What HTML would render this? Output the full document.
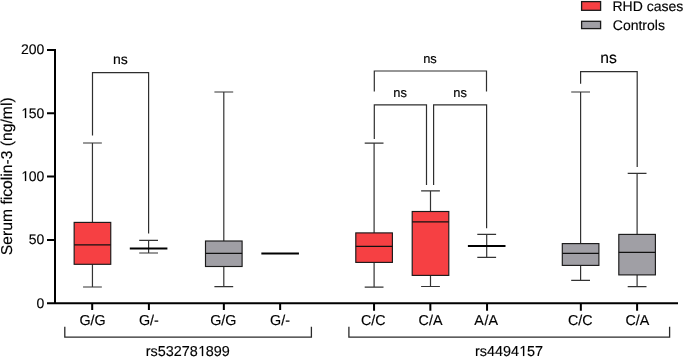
<!DOCTYPE html>
<html><head><meta charset="utf-8"><style>
html,body{margin:0;padding:0;background:#fff;width:685px;height:357px;overflow:hidden}
svg{display:block;will-change:transform}
text{font-family:"Liberation Sans",sans-serif;fill:#000;stroke:#000;stroke-width:0.15px;text-rendering:geometricPrecision;font-kerning:none}
</style></head><body>
<svg width="685" height="357" viewBox="0 0 685 357">
<path d="M47 49.9H55M55 49V304.2M47 113.2H55M47 176.5H55M47 239.9H55M47 303.2H678" stroke="#000" stroke-width="2" fill="none"/>
<path d="M92.2 303V309.9M148.9 303V309.9M223.85 303V309.9M280.15 303V309.9M374.05 303V310.7M430.35 303V310.7M487.05 303V310.7M580.85 303V310.7M637.1 303V310.7" stroke="#000" stroke-width="2" fill="none"/>
<path d="M92.45 143.0V222.4M92.45 264.3V287.0M83.05 143.0H101.85M83.05 287.0H101.85" stroke="#333" stroke-width="1.2" fill="none"/>
<rect x="74.15" y="222.4" width="36.60" height="41.90" fill="#f64043" stroke="#1a1a1a" stroke-width="1.15"/>
<path d="M74.15 244.9H110.75" stroke="#111" stroke-width="1.3"/>
<path d="M148.6 240.4V253.0M139.20 240.4H158.00M139.20 253.0H158.00" stroke="#333" stroke-width="1.2" fill="none"/>
<path d="M129.80 248.4H167.40" stroke="#000" stroke-width="2.0"/>
<path d="M223.8 92.0V241.0M223.8 266.5V286.6M214.40 92.0H233.20M214.40 286.6H233.20" stroke="#333" stroke-width="1.2" fill="none"/>
<rect x="205.50" y="241.0" width="36.60" height="25.50" fill="#a09fa5" stroke="#1a1a1a" stroke-width="1.15"/>
<path d="M205.50 253.4H242.10" stroke="#111" stroke-width="1.3"/>
<path d="M261.35 253.6H298.95" stroke="#000" stroke-width="2.0"/>
<path d="M374.1 143.2V232.9M374.1 262.4V287.2M364.70 143.2H383.50M364.70 287.2H383.50" stroke="#333" stroke-width="1.2" fill="none"/>
<rect x="355.80" y="232.9" width="36.60" height="29.50" fill="#f64043" stroke="#1a1a1a" stroke-width="1.15"/>
<path d="M355.80 246.4H392.40" stroke="#111" stroke-width="1.3"/>
<path d="M430.5 190.9V211.5M430.5 275.4V286.5M421.10 190.9H439.90M421.10 286.5H439.90" stroke="#333" stroke-width="1.2" fill="none"/>
<rect x="412.20" y="211.5" width="36.60" height="63.90" fill="#f64043" stroke="#1a1a1a" stroke-width="1.15"/>
<path d="M412.20 221.8H448.80" stroke="#111" stroke-width="1.3"/>
<path d="M486.7 234.3V257.4M477.30 234.3H496.10M477.30 257.4H496.10" stroke="#333" stroke-width="1.2" fill="none"/>
<path d="M467.90 246.0H505.50" stroke="#000" stroke-width="2.0"/>
<path d="M580.6 92.0V243.6M580.6 265.4V280.4M571.20 92.0H590.00M571.20 280.4H590.00" stroke="#333" stroke-width="1.2" fill="none"/>
<rect x="562.30" y="243.6" width="36.60" height="21.80" fill="#a09fa5" stroke="#1a1a1a" stroke-width="1.15"/>
<path d="M562.30 253.4H598.90" stroke="#111" stroke-width="1.3"/>
<path d="M637.1 173.3V234.4M637.1 274.9V286.6M627.70 173.3H646.50M627.70 286.6H646.50" stroke="#333" stroke-width="1.2" fill="none"/>
<rect x="618.80" y="234.4" width="36.60" height="40.50" fill="#a09fa5" stroke="#1a1a1a" stroke-width="1.15"/>
<path d="M618.80 252.3H655.40" stroke="#111" stroke-width="1.3"/>
<path d="M92.5 135.6V72.6H148.6V233.5" stroke="#2e2e2e" stroke-width="1.2" fill="none"/>
<path d="M374.3 91.4V71.0H486.5V91.4" stroke="#2e2e2e" stroke-width="1.2" fill="none"/>
<path d="M374.3 139.0V104.9H426.5V184.9" stroke="#2e2e2e" stroke-width="1.2" fill="none"/>
<path d="M433.6 184.9V104.9H486.6V228.3" stroke="#2e2e2e" stroke-width="1.2" fill="none"/>
<path d="M580.6 83.7V71.7H637.2V167.1" stroke="#2e2e2e" stroke-width="1.2" fill="none"/>
<path d="M64.8 326.8V337.1H311.4V326.8M348.9 326.8V337.1H669.6V326.8" stroke="#2a2a2a" stroke-width="1.3" fill="none"/>
<rect x="581.6" y="1.6" width="19" height="8.7" fill="#f64043" stroke="#1a1a1a" stroke-width="1.3"/>
<rect x="581.6" y="21.3" width="19" height="7.3" fill="#a09fa5" stroke="#1a1a1a" stroke-width="1.3"/>
<g id="tx">
<text x="44.3" y="54" font-size="14" text-anchor="end">200</text>
<text x="44.3" y="118" font-size="14" text-anchor="end">&#8199;50</text>
<text x="44.3" y="181" font-size="14" text-anchor="end">&#8199;00</text>
<text x="44.3" y="244" font-size="14" text-anchor="end">50</text>
<text x="44.3" y="308" font-size="14" text-anchor="end">0</text>
<text x="92.5" y="325.4" font-size="14.3" text-anchor="middle">G/G</text>
<text x="148.85" y="325.4" font-size="14.3" text-anchor="middle">G/-</text>
<text x="223.3" y="325.4" font-size="14.3" text-anchor="middle">G/G</text>
<text x="280.0" y="325.4" font-size="14.3" text-anchor="middle">G/-</text>
<text x="373.2" y="325.4" font-size="14.3" text-anchor="middle">C/C</text>
<text x="430.5" y="325.4" font-size="14.3" text-anchor="middle">C/A</text>
<text x="474.2 484.6 488.5" y="325.4" font-size="14.3">A/A</text>
<text x="580.25" y="325.4" font-size="14.3" text-anchor="middle">C/C</text>
<text x="637.3" y="325.4" font-size="14.3" text-anchor="middle">C/A</text>
<text x="187.8" y="356" font-size="14.4" text-anchor="middle">rs53278&#8199;899</text>
<text x="508.9" y="356" font-size="14.4" text-anchor="middle">rs4494&#8199;57</text>
<text x="120.4" y="64" font-size="14" text-anchor="middle">ns</text>
<text x="430.0" y="62.5" font-size="12.9" text-anchor="middle">ns</text>
<text x="400.1" y="96.6" font-size="12.9" text-anchor="middle">ns</text>
<text x="460.1" y="96.6" font-size="12.9" text-anchor="middle">ns</text>
<text x="608.5" y="63.2" font-size="15.7" text-anchor="middle">ns</text>
<text x="612.5" y="11" font-size="14" text-anchor="start">RHD cases</text>
<text x="612.8" y="30" font-size="14" text-anchor="start">Controls</text>
<text transform="translate(11.6 176.25) rotate(-90)" font-size="15.7" text-anchor="middle">Serum ficolin-3 (ng/ml)</text>
</g>
<g fill="#000" stroke="#000">
<path transform="translate(20.941 118) scale(0.006836 -0.006836)" stroke-width="21.9" d="M583 0V1237L265 1010V1180L598 1409H764V0Z"/>
<path transform="translate(20.941 181) scale(0.006836 -0.006836)" stroke-width="21.9" d="M583 0V1237L265 1010V1180L598 1409H764V0Z"/>
<path transform="translate(197.784 356) scale(0.007031 -0.007031)" stroke-width="21.3" d="M583 0V1237L265 1010V1180L598 1409H764V0Z"/>
<path transform="translate(518.892 356) scale(0.007031 -0.007031)" stroke-width="21.3" d="M583 0V1237L265 1010V1180L598 1409H764V0Z"/>
</g>
</svg>
</body></html>
